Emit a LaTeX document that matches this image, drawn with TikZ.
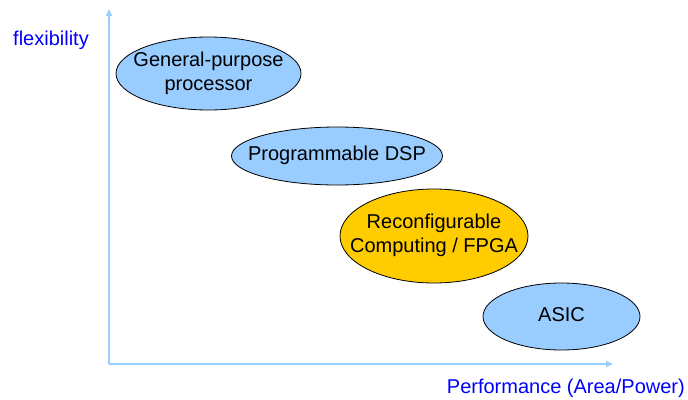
\documentclass[tikz,border=0pt]{standalone}
\usepackage{fontspec}
\setmainfont{Liberation Sans}
\usetikzlibrary{shapes.geometric,arrows.meta}
\definecolor{axisblue}{RGB}{153,204,255}
\definecolor{bubbleblue}{RGB}{153,204,255}
\definecolor{bubbleyellow}{RGB}{255,204,0}
\definecolor{labelblue}{RGB}{0,0,255}
% centred text of zero width, so the ellipse size is set by its minimum width/height
\newcommand{\bubbletext}[1]{\makebox[0pt]{\begin{tabular}{@{}c@{}}#1\end{tabular}}}
\begin{document}
\begin{tikzpicture}[x=1pt,y=-1pt,
  bubble/.style={ellipse,draw=black,line width=0.8pt,inner sep=0pt,
    font=\fontsize{20}{24}\selectfont},
  axisline/.style={draw=axisblue,line width=2pt,-{Triangle[length=7pt,width=6pt]}},
  axislabel/.style={text=labelblue,font=\fontsize{20}{24}\selectfont,inner sep=0pt}]
\useasboundingbox (0,0) rectangle (688,399);
% axes
\coordinate (origin) at (109,364);
\coordinate (ytop) at (109,9);
\coordinate (xend) at (613,364);
\draw[axisline] (origin) -- (ytop);
\draw[axisline] (origin) -- (xend);
\node[axislabel] (ylab) at (51,40) {flexibility};
\node[axislabel,anchor=east] (xlab) at (685,388) {Performance (Area/Power)};
% design styles
\node[bubble,fill=bubbleblue,minimum width=185,minimum height=73] (gpp) at (208.5,73.5) {\bubbletext{General-purpose\\processor}};
\node[bubble,fill=bubbleblue,minimum width=211,minimum height=58] (dsp) at (337,156) {\bubbletext{Programmable DSP}};
\node[bubble,fill=bubbleyellow,minimum width=188,minimum height=94] (fpga) at (434,236) {\bubbletext{Reconfigurable\\Computing / FPGA}};
\node[bubble,fill=bubbleblue,minimum width=157,minimum height=67] (asic) at (561.5,316.5) {\bubbletext{ASIC}};
\end{tikzpicture}
\end{document}
